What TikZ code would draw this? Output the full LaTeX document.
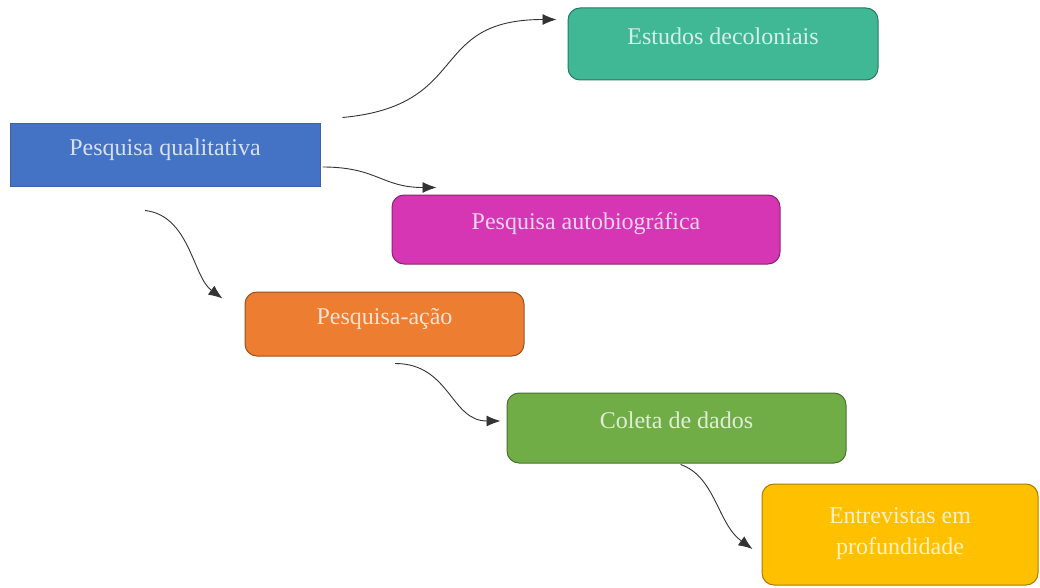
\documentclass[tikz,border=0pt]{standalone}
\usepackage{fontspec}
\setmainfont{Liberation Serif}
\usetikzlibrary{arrows.meta}
\definecolor{qualblue}{RGB}{68,114,196}
\definecolor{decoteal}{RGB}{64,184,150}
\definecolor{autopink}{RGB}{214,54,180}
\definecolor{acaoorange}{RGB}{237,125,49}
\definecolor{coletagreen}{RGB}{112,173,71}
\definecolor{entreyellow}{RGB}{255,192,0}
\begin{document}
\begin{tikzpicture}[x=1pt,y=-1pt,
  box/.style={draw=#1!65!black, fill=#1, text=white!78!#1, rounded corners=12pt,
    line width=1pt, inner sep=0pt, text depth=16pt,
    font=\fontsize{24}{31}\selectfont},
  conn/.style={->, line width=0.9pt, draw=black!80},
  >={Latex[length=14pt,width=11pt]}]
\useasboundingbox (0,0) rectangle (1040,588);
% Drawing boxes
\node[box=qualblue, sharp corners, draw=qualblue!85!black, minimum width=310pt, minimum height=62pt] (qual) at (165,155) {Pesquisa qualitativa};
\node[box=decoteal, minimum width=310pt, minimum height=72pt] (deco) at (723,44) {Estudos decoloniais};
\node[box=autopink, minimum width=388pt, minimum height=69pt] (auto) at (586,229.5) {Pesquisa autobiográfica};
\node[box=acaoorange, minimum width=279pt, minimum height=64pt] (acao) at (384.5,324) {Pesquisa-ação};
\node[box=coletagreen, minimum width=339pt, minimum height=70pt] (coleta) at (676.5,428) {Coleta de dados};
\node[box=entreyellow, align=center, text depth=6pt, minimum width=276pt, minimum height=101pt] (entre) at (900,534.5) {Entrevistas em\\profundidade};
% Done with boxes; drawing connector ends
\coordinate (qual-a) at ([shift={(22,-6)}]qual.north east);
\coordinate (qual-b) at ([shift={(2,12)}]qual.east);
\coordinate (qual-c) at ([shift={(-20,24)}]qual.south);
\coordinate (deco-in) at ([shift={(-11,12)}]deco.north west);
\coordinate (auto-in) at ([shift={(45,-7)}]auto.north west);
\coordinate (acao-in) at ([shift={(-22,7)}]acao.north west);
\coordinate (acao-out) at ([shift={(10.5,7)}]acao.south);
\coordinate (coleta-in) at ([shift={(-6,-7)}]coleta.west);
\coordinate (coleta-out) at ([shift={(4,1)}]coleta.south);
\coordinate (entre-in) at ([shift={(-9,14.5)}]entre.west);
% Drawing connectors
\draw[conn] (qual-a) .. controls +(130,-12) and +(-130,0) .. (deco-in);
\draw[conn] (qual-b) .. controls +(55,0) and +(-55,0) .. (auto-in);
\draw[conn] (qual-c) .. controls +(45,5) and +(-30,-22) .. (acao-in);
\draw[conn] (acao-out) .. controls +(55,0) and +(-50,0) .. (coleta-in);
\draw[conn] (coleta-out) .. controls +(35,12) and +(-35,-25) .. (entre-in);
\end{tikzpicture}
\end{document}
